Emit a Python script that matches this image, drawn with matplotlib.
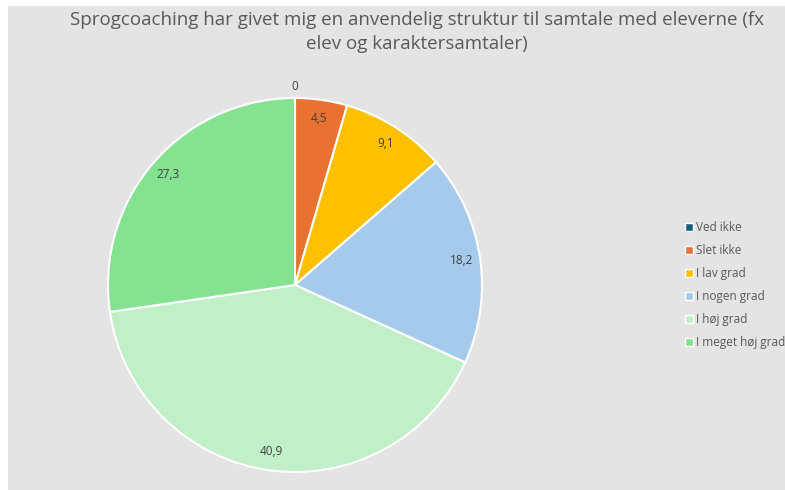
import numpy as np
import matplotlib.pyplot as plt
from matplotlib.patches import Rectangle
from matplotlib.lines import Line2D

plt.rcParams['font.family'] = ['Open Sans', 'DejaVu Sans']

categories = ["Ved ikke", "Slet ikke", "I lav grad", "I nogen grad", "I høj grad", "I meget høj grad"]
values = [0, 4.5, 9.1, 18.2, 40.9, 27.3]
colors = ["#156082", "#e97132", "#ffc000", "#a6caec", "#c1f0c8", "#84e291"]

fig = plt.figure(figsize=(7.85, 4.9), dpi=100)
fig.patch.set_facecolor("white")
fig.patches.append(Rectangle((8 / 785, 0), 1, 484 / 490, transform=fig.transFigure,
                             facecolor="#e4e4e4", edgecolor="none", zorder=-1))

W, H = 785, 490
cx, cy, r = 295, 285, 187
ax = fig.add_axes([(cx - r) / W, 1 - (cy + r) / H, 2 * r / W, 2 * r / H])
ax.set_facecolor("none")

wedges, _ = ax.pie(values, colors=colors, startangle=90, counterclock=False,
                   wedgeprops=dict(edgecolor="white", linewidth=1.5))
ax.set_xlim(-1, 1)
ax.set_ylim(-1, 1)
ax.axis("off")

for w, v in zip(wedges, values):
    ang = np.deg2rad((w.theta1 + w.theta2) / 2)
    d = 0.9 if v > 0 else 1.06
    txt = f"{v:g}".replace(".", ",")
    ax.text(d * np.cos(ang), d * np.sin(ang), txt, ha="center", va="center",
            fontsize=8.5, color="#404040")

fig.text(417 / W, 1 - 20 / H, "Sprogcoaching har givet mig en anvendelig struktur til samtale med eleverne (fx",
         ha="center", va="center", fontsize=13.5, color="#595959")
fig.text(417 / W, 1 - 44 / H, "elev og karaktersamtaler)",
         ha="center", va="center", fontsize=13.5, color="#595959")

handles = [Line2D([], [], marker="s", linestyle="none", markersize=6,
                  markerfacecolor=c, markeredgecolor="white", markeredgewidth=1)
           for c in colors]
fig.legend(handles, categories, loc="upper left", bbox_to_anchor=(685 / W, 1 - 221 / H),
           frameon=False, fontsize=8.5, labelcolor="#595959", handlelength=0.6,
           handletextpad=0.35, labelspacing=0.85, borderpad=0, borderaxespad=0)

fig.savefig("out.png", dpi=100)
